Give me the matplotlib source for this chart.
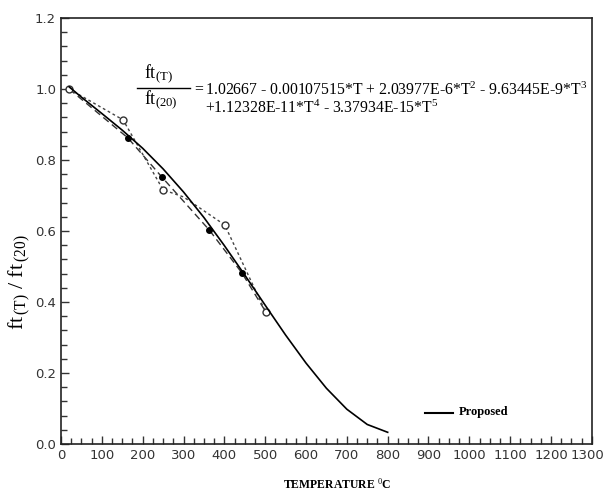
import matplotlib
matplotlib.use("Agg")
import matplotlib.pyplot as plt
import matplotlib.transforms as mtrans
import numpy as np

# Proposed curve
prop_T = [20, 50, 100, 150, 200, 250, 300, 350, 400, 450, 500, 550, 600, 650, 700, 750, 800]
prop_y = [1.006, 0.977, 0.931, 0.884, 0.833, 0.775, 0.710, 0.638, 0.559, 0.476, 0.391, 0.307, 0.228, 0.157, 0.098, 0.055, 0.033]

# Test series A (filled circles, dashed)
a_T = [20, 164, 247, 363, 443, 500]
a_y = [1.0, 0.862, 0.752, 0.603, 0.482, 0.375]

# Test series B (open circles, dotted)
b_T = [20, 152, 250, 300, 401, 501]
b_y = [1.0, 0.913, 0.716, 0.696, 0.617, 0.372]

x_ticks = list(range(0, 1301, 100))
y_ticks = [0.0, 0.2, 0.4, 0.6, 0.8, 1.0, 1.2]

plt.rcParams['mathtext.fontset'] = 'custom'
plt.rcParams['mathtext.rm'] = 'Liberation Serif'
plt.rcParams['mathtext.it'] = 'Liberation Serif:italic'

fig = plt.figure(figsize=(6.07, 5.00), dpi=100)
ax = fig.add_axes([0.1005, 0.112, 0.8745, 0.852])

ax.plot(prop_T, prop_y, color='black', lw=1.2, zorder=3)
ax.plot(a_T, a_y, color='#333333', lw=1.0, ls=(0, (5, 3)), marker='o', ms=4,
        mfc='black', mec='black', markevery=[0, 1, 2, 3, 4], zorder=2)
ax.plot(b_T, b_y, color='#444444', lw=1.0, ls=(0, (2, 2)), marker='o', ms=5,
        mfc='white', mec='#333333', markevery=[0, 1, 2, 4, 5], zorder=2)

ax.set_xlim(0, 1300)
ax.set_ylim(0, 1.2)
ax.set_xticks(x_ticks)
ax.set_yticks(y_ticks)
ax.set_xticks(np.arange(0, 1301, 25), minor=True)
ax.set_yticks(np.arange(0, 1.2001, 0.04), minor=True)
ax.set_yticklabels([f"{v:.1f}" for v in y_ticks])
ax.tick_params(axis='both', which='both', direction='in', top=False, right=False,
               width=1.0, colors='#333333')
ax.tick_params(axis='both', which='major', length=6, labelsize=9.5, labelcolor='#333333')
ax.tick_params(axis='both', which='minor', length=4)
for s in ax.spines.values():
    s.set_linewidth(1.2)
    s.set_color('#222222')

ax.set_xlabel(r'TEMPERATURE $^{0}$C', family='Liberation Serif', fontsize=8.5,
              fontweight='bold', labelpad=11, x=0.52)
ax.set_ylabel(r'$\mathrm{ft}_{\,(\mathrm{T})}\ /\ \mathrm{ft}_{\,(20)}$', fontsize=16,
              labelpad=2, y=0.38)

# keep the last x tick label inside the figure
fig.canvas.draw()
last = ax.get_xticklabels()[-1]
last.set_transform(last.get_transform() + mtrans.ScaledTranslation(-4 / 100, 0, fig.dpi_scale_trans))

# Equation
fig.text(0.238, 0.852, r'$\mathrm{ft}_{(\mathrm{T})}$', fontsize=13, ha='left', va='center')
fig.text(0.238, 0.800, r'$\mathrm{ft}_{(20)}$', fontsize=13, ha='left', va='center')
fig.add_artist(plt.Line2D([0.226, 0.313], [0.824, 0.824], color='black', lw=1.0))
line1 = r'$= 1.02667\ \text{-}\ 0.00107515{*}T\ \text{+}\ 2.03977E\text{-}6{*}T^2\ \text{-}\ 9.63445E\text{-}9{*}T^3$'
line2 = r'$\text{+}1.12328E\text{-}11{*}T^4\ \text{-}\ 3.37934E\text{-}15{*}T^5$'
fig.text(0.316, 0.821, line1.replace('T', r'\mathrm{T}').replace('E', r'\mathrm{E}'),
         fontsize=11.3, ha='left', va='center')
fig.text(0.338, 0.785, line2.replace('T', r'\mathrm{T}').replace('E', r'\mathrm{E}'),
         fontsize=11.3, ha='left', va='center')

# Legend
ax.plot([0.685, 0.738], [0.073, 0.073], transform=ax.transAxes, color='black', lw=1.5)
ax.text(0.750, 0.076, 'Proposed', transform=ax.transAxes, family='Liberation Serif',
        fontsize=9, fontweight='bold', va='center', ha='left')

fig.savefig('out.png', dpi=100)
